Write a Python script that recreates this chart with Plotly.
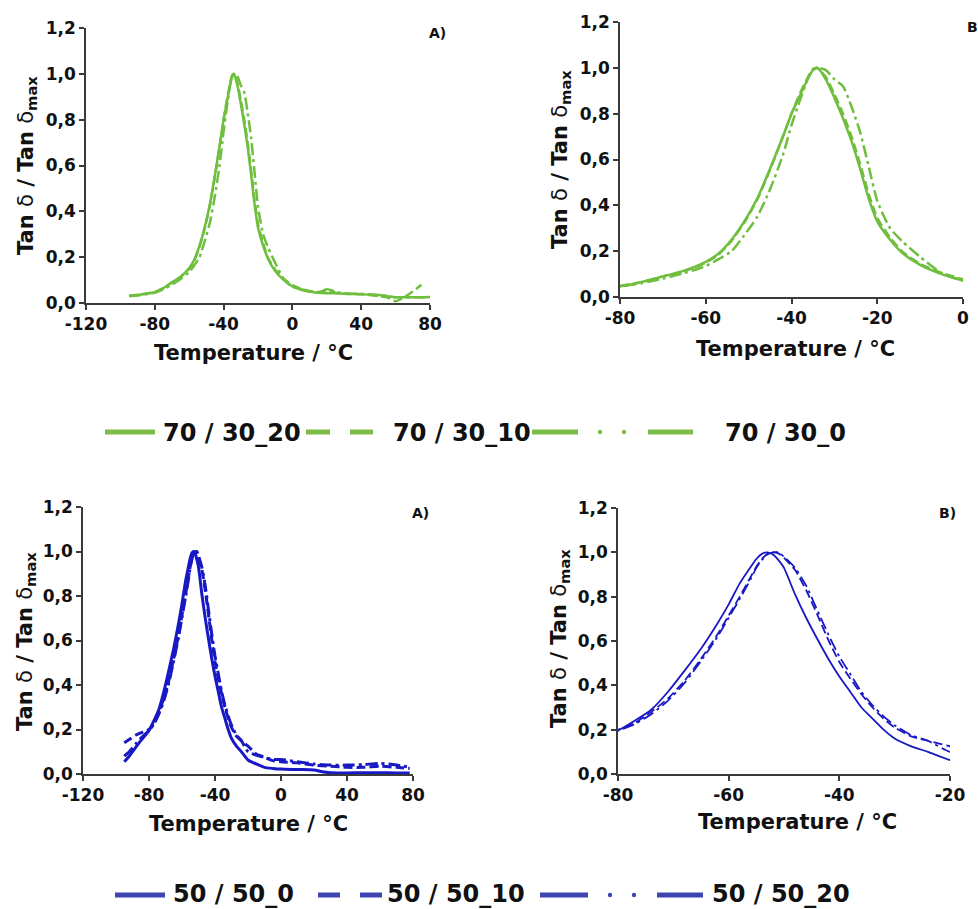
import plotly.graph_objects as go

W, H = 978, 909

# ---- 70/30 blends: normalised tan delta vs temperature ----
t_7030 = [-95, -90, -85, -80, -75, -70, -65, -60, -57, -54,
          -51, -48, -45, -42, -40, -38, -36, -35, -34, -32,
          -30, -28, -26, -24, -22, -20, -17, -14, -10, -5,
          0, 5, 10, 15, 20, 25, 30, 40, 50, 55,
          60, 65, 70, 75, 80]
tan_7030_20 = [0.030, 0.035, 0.040, 0.047, 0.065, 0.090, 0.115, 0.153, 0.190, 0.250,
               0.330, 0.430, 0.560, 0.700, 0.800, 0.880, 0.960, 0.990, 1.000, 0.950,
               0.870, 0.780, 0.680, 0.560, 0.430, 0.330, 0.250, 0.190, 0.140, 0.100,
               0.072, 0.058, 0.050, 0.045, 0.043, 0.042, 0.040, 0.038, 0.035, 0.030,
               0.025, 0.025, 0.025, 0.025, 0.026]
tan_7030_10 = [0.032, 0.036, 0.041, 0.048, 0.066, 0.090, 0.113, 0.150, 0.185, 0.245,
               0.325, 0.425, 0.555, 0.700, 0.800, 0.890, 0.965, 0.995, 1.000, 0.960,
               0.885, 0.800, 0.700, 0.580, 0.450, 0.345, 0.260, 0.195, 0.145, 0.105,
               0.078, 0.062, 0.052, 0.048, 0.055, 0.045, 0.040, 0.038, 0.030, 0.025,
               0.008, 0.025, 0.050, 0.080, None]
tan_7030_0 = [0.030, 0.033, 0.038, 0.045, 0.060, 0.080, 0.105, 0.135, 0.165, 0.200,
              0.270, 0.350, 0.470, 0.620, 0.750, 0.860, 0.960, 0.990, 1.000, 0.990,
              0.950, 0.920, 0.830, 0.720, 0.570, 0.420, 0.300, 0.240, 0.175, 0.105,
              0.072, 0.060, 0.050, 0.045, 0.060, 0.050, 0.042, 0.040, 0.035, 0.030,
              0.025, 0.025, 0.025, 0.025, 0.025]

# ---- 50/50 blends ----
t_5050 = [-95, -92, -88, -85, -80, -77, -74, -71, -68, -65,
          -62, -60, -58, -56, -55, -54, -53, -52, -51, -50,
          -48, -46, -44, -42, -40, -38, -36, -34, -32, -30,
          -27, -24, -20, -15, -10, -5, 0, 10, 20, 25,
          30, 40, 50, 60, 70, 78]
tan_5050_0 = [0.055, 0.080, 0.120, 0.150, 0.196, 0.240, 0.290, 0.370, 0.465, 0.565,
              0.680, 0.765, 0.860, 0.935, 0.970, 0.993, 1.000, 0.990, 0.965, 0.930,
              0.810, 0.705, 0.610, 0.520, 0.440, 0.370, 0.300, 0.250, 0.200, 0.160,
              0.125, 0.100, 0.063, 0.045, 0.030, 0.025, 0.022, 0.020, 0.018, 0.010,
              0.006, 0.005, 0.006, 0.006, 0.005, 0.005]
tan_5050_10 = [0.140, 0.155, 0.175, 0.185, 0.200, 0.230, 0.280, 0.340, 0.420, 0.520,
               0.630, 0.715, 0.800, 0.890, 0.935, 0.970, 0.993, 1.000, 0.995, 0.975,
               0.920, 0.830, 0.720, 0.605, 0.505, 0.430, 0.360, 0.300, 0.250, 0.210,
               0.170, 0.150, 0.125, 0.090, 0.075, 0.060, 0.055, 0.050, 0.040, 0.037,
               0.035, 0.030, 0.030, 0.035, 0.030, 0.025]
tan_5050_20 = [0.080, 0.100, 0.135, 0.160, 0.195, 0.225, 0.270, 0.330, 0.410, 0.510,
               0.620, 0.705, 0.790, 0.880, 0.930, 0.965, 0.990, 1.000, 1.000, 0.980,
               0.930, 0.850, 0.740, 0.630, 0.530, 0.450, 0.370, 0.310, 0.260, 0.220,
               0.175, 0.150, 0.100, 0.085, 0.075, 0.065, 0.065, 0.055, 0.045, 0.042,
               0.040, 0.040, 0.042, 0.048, 0.040, 0.030]

labels_7030 = ["70 / 30_20", "70 / 30_10", "70 / 30_0"]
labels_5050 = ["50 / 50_0", "50 / 50_10", "50 / 50_20"]

x_ticks_wide = [-120, -80, -40, 0, 40, 80]
x_ticks_top_zoom = [-80, -60, -40, -20, 0]
x_ticks_bottom_zoom = [-80, -60, -40, -20]
y_ticks = [0.0, 0.2, 0.4, 0.6, 0.8, 1.0, 1.2]
y_tick_text = ["0,0", "0,2", "0,4", "0,6", "0,8", "1,0", "1,2"]

GREEN = "#6fbe3e"
GREEN_KEY = "#7dbd47"
BLUE = "#1818c4"
BLUE_KEY = "#3d45b3"
AXIS = "#3a3a3a"


def px_x(p):
    return p / W


def px_y(p):
    return 1 - p / H


DASHES = ["solid", "9px,4px", "12px,4px,3px,4px"]

panels = [
    dict(n="", box=(86, 28, 430, 303), xr=[-120, 80], xt=x_ticks_wide,
         t=t_7030, ys=[tan_7030_20, tan_7030_10, tan_7030_0], names=labels_7030,
         color=GREEN, lw=2.5),
    dict(n="2", box=(620, 22, 963, 297), xr=[-80, 0], xt=x_ticks_top_zoom,
         t=t_7030, ys=[tan_7030_20, tan_7030_10, tan_7030_0], names=labels_7030,
         color=GREEN, lw=2.5),
    dict(n="3", box=(83, 507, 413, 774), xr=[-120, 80], xt=x_ticks_wide,
         t=t_5050, ys=[tan_5050_0, tan_5050_10, tan_5050_20], names=labels_5050,
         color=BLUE, lw=3),
    dict(n="4", box=(618, 508, 950, 774), xr=[-80, -20], xt=x_ticks_bottom_zoom,
         t=t_5050, ys=[tan_5050_0, tan_5050_10, tan_5050_20], names=labels_5050,
         color=BLUE, lw=1.8),
]

tick_font = dict(family="DejaVu Sans", size=17, color="#111111", weight="bold")

fig = go.Figure()
layout = dict(
    template="none",
    width=W, height=H, margin=dict(l=0, r=0, t=0, b=0, autoexpand=False),
    paper_bgcolor="white", plot_bgcolor="white", showlegend=False,
    font=dict(family="DejaVu Sans", color="#111111"),
)

for p in panels:
    l, t, r, b = p["box"]
    xa = "xaxis" + p["n"]
    ya = "yaxis" + p["n"]
    xref = "x" + p["n"]
    yref = "y" + p["n"]
    for ys, name, dash in zip(p["ys"], p["names"], DASHES):
        fig.add_trace(go.Scatter(
            x=p["t"], y=ys, name=name, mode="lines", xaxis=xref, yaxis=yref,
            line=dict(color=p["color"], width=p["lw"], dash=dash, shape="spline",
                      smoothing=0.6),
            connectgaps=False, hoverinfo="skip",
        ))
    common = dict(showgrid=False, zeroline=False, showline=True, linecolor=AXIS,
                  linewidth=1.5, ticks="outside", ticklen=5, tickwidth=1.5,
                  tickcolor=AXIS, tickfont=tick_font, fixedrange=True,
                  automargin=False)
    layout[xa] = dict(domain=[px_x(l), px_x(r)], range=p["xr"], anchor=yref,
                      tickvals=p["xt"], ticktext=[str(v) for v in p["xt"]],
                      **common)
    layout[ya] = dict(domain=[px_y(b), px_y(t)], range=[0, 1.2], anchor=xref,
                      tickvals=y_ticks, ticktext=y_tick_text, **common)

fig.update_layout(**layout)

title_font = dict(family="DejaVu Sans", size=21, color="#111111", weight="bold")
delta = '<span style="font-weight:normal">δ</span>'
y_title = f"Tan {delta} / Tan {delta}<sub>max</sub>"

annotations = []
# axis titles (centre positions in px)
for cx, cy in [(253, 353), (795, 349), (249, 824), (797, 822)]:
    annotations.append(dict(text="Temperature / °C", x=px_x(cx), y=px_y(cy),
                            xref="paper", yref="paper", showarrow=False,
                            xanchor="center", yanchor="middle", font=title_font))
for cx, cy in [(27, 166), (561, 160), (26, 642), (560, 639)]:
    annotations.append(dict(text=y_title, x=px_x(cx), y=px_y(cy), textangle=-90,
                            xref="paper", yref="paper", showarrow=False,
                            xanchor="center", yanchor="middle", font=title_font))
# panel letters
letter_font = dict(family="DejaVu Sans", size=14, color="#111111", weight="bold")
for txt, cx, cy, anchor in [("A)", 437, 33, "center"), ("B)", 965, 27, "left"),
                            ("A)", 420, 513, "center"), ("B)", 947, 513, "center")]:
    annotations.append(dict(text=txt, x=px_x(cx), y=px_y(cy), xref="paper",
                            yref="paper", showarrow=False, xanchor=anchor,
                            yanchor="middle", font=letter_font))

# legend keys drawn as line samples + labels
legend_font = dict(family="DejaVu Sans", size=24, color="#111111", weight="bold")
shapes = []


def key(segments, dots, y, color):
    for x0, x1 in segments:
        shapes.append(dict(type="line", xref="paper", yref="paper",
                           x0=px_x(x0), x1=px_x(x1), y0=px_y(y), y1=px_y(y),
                           line=dict(color=color, width=5)))
    for xc in dots:
        shapes.append(dict(type="circle", xref="paper", yref="paper",
                           x0=px_x(xc - 2.2), x1=px_x(xc + 2.2),
                           y0=px_y(y + 2.2), y1=px_y(y - 2.2),
                           fillcolor=color, line=dict(width=0)))


def legend_row(y_key, y_text, color, names, text_x, keys):
    for (segs, dots), name, tx in zip(keys, names, text_x):
        key(segs, dots, y_key, color)
        annotations.append(dict(text=name, x=px_x(tx), y=px_y(y_text), xref="paper",
                                yref="paper", showarrow=False, xanchor="left",
                                yanchor="middle", font=legend_font))


legend_row(432, 433, GREEN_KEY, labels_7030, [161, 391, 723],
           [([(105, 155)], []),
            ([(306, 330), (350, 373)], []),
            ([(532, 578), (648, 693)], [600, 624])])
legend_row(895, 894, BLUE_KEY, labels_5050, [171, 385, 710],
           [([(115, 165)], []),
            ([(318, 340), (360, 382)], []),
            ([(540, 588), (657, 703)], [610, 634])])

fig.update_layout(annotations=annotations, shapes=shapes)
fig.write_html("out.html")
